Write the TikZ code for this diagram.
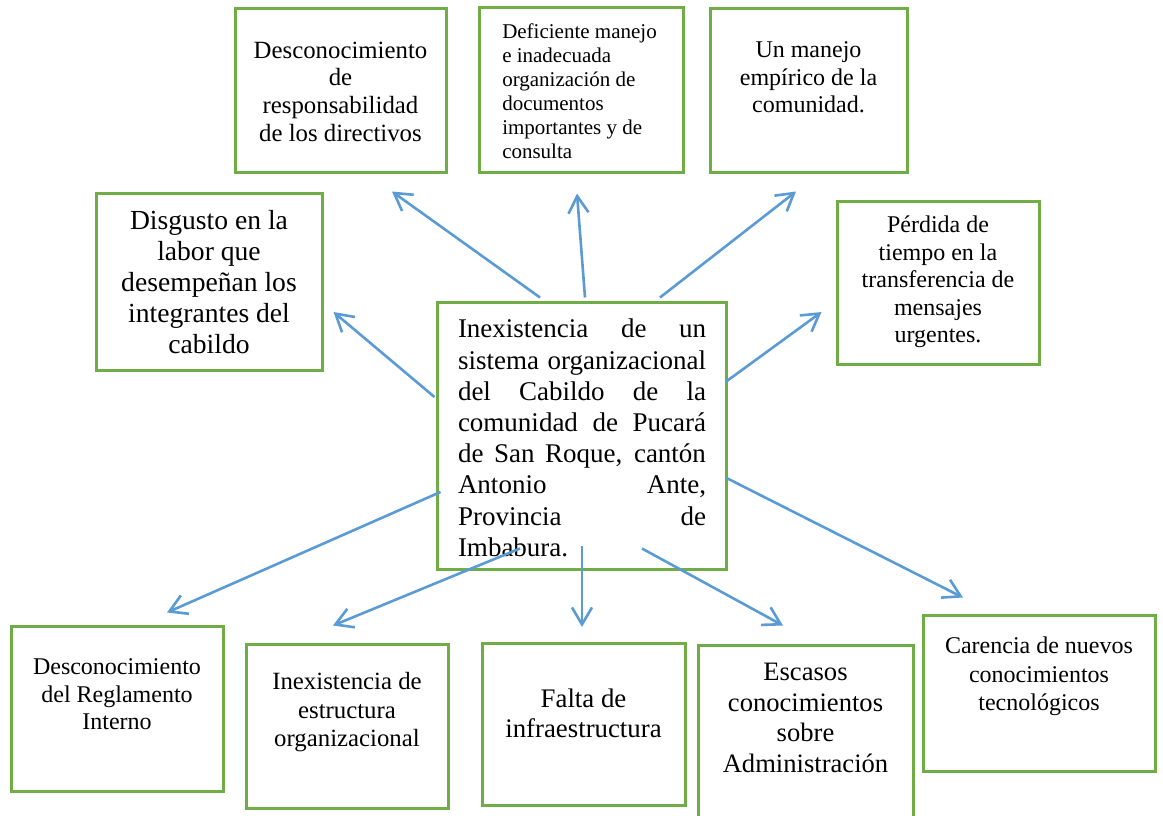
\documentclass[tikz,border=0pt]{standalone}
\usepackage{fontspec}
\setmainfont{Liberation Serif}
\usetikzlibrary{arrows.meta}
\usetikzlibrary{calc}
\definecolor{verde}{HTML}{70AD47}
\definecolor{azul}{HTML}{5B9BD5}
\tikzset{
  caja/.style={draw=verde, line width=1.5pt, inner sep=0pt},
  texto/.style={align=center, inner sep=0pt},
  flecha/.style={draw=azul, line width=1.3pt, -{Straight Barb[length=8.5pt,width=10pt]}}
}

\begin{document}
\begin{tikzpicture}[x=0.5pt,y=-0.5pt]
    \useasboundingbox (0,0) rectangle (1163,815);
    % cajas de arriba
    \node[caja, minimum width=105.5pt, minimum height=82pt] (resp) at (340.5,90) {};
    \node[texto, font=\fontsize{12.4}{13.85}\selectfont] (resp-t) at (340.5,91.5) {Desconocimiento\\de\\responsabilidad\\de los directivos};
    \node[caja, minimum width=102pt, minimum height=82.5pt] (docs) at (581,89.5) {};
    \node[texto, align=left, font=\fontsize{10.5}{12}\selectfont] (docs-t) at (579.5,91) {Deficiente manejo\\e inadecuada\\organización de\\documentos\\importantes y de\\consulta};
    \node[caja, minimum width=98.5pt, minimum height=82pt] (empir) at (808.5,90) {};
    \node[texto, font=\fontsize{12}{13.8}\selectfont] (empir-t) at (808.5,77.5) {Un manejo\\empírico de la\\comunidad.};
    \node[caja, minimum width=113pt, minimum height=88.5pt] (disg) at (209,281.5) {};
    \node[texto, font=\fontsize{13.8}{15.6}\selectfont] (disg-t) at (209,282) {Disgusto en la\\labor que\\desempeñan los\\integrantes del\\cabildo};
    \node[caja, minimum width=101pt, minimum height=81.5pt] (perd) at (938,282.5) {};
    \node[texto, font=\fontsize{12}{13.8}\selectfont] (perd-t) at (938,282) {Pérdida de\\tiempo en la\\transferencia de\\mensajes\\urgentes.};
    % problema central
    \node[caja, minimum width=144.5pt, minimum height=133.5pt] (cen) at (581.5,435.5) {};
    \node[texto, align=justify, text width=124pt, font=\fontsize{13.5}{15.6}\selectfont] (cen-t) at (582,438) {\tolerance=10000 Inexistencia de un\linebreak sistema organizacional\linebreak del Cabildo de la\linebreak comunidad de Pucará\linebreak de San Roque, cantón\linebreak Antonio Ante,\linebreak Provincia de\linebreak Imbabura.};
    % cajas de abajo
    \node[caja, minimum width=106pt, minimum height=82.5pt] (regl) at (117,708.5) {};
    \node[texto, font=\fontsize{12}{13.8}\selectfont] (regl-t) at (117,694.5) {Desconocimiento\\del Reglamento\\Interno};
    \node[caja, minimum width=101pt, minimum height=82pt] (estr) at (347,726) {};
    \node[texto, font=\fontsize{12.4}{14.25}\selectfont] (estr-t) at (347,712.5) {Inexistencia de\\estructura\\organizacional};
    \node[caja, minimum width=101.5pt, minimum height=81pt] (infra) at (583.5,724.5) {};
    \node[texto, font=\fontsize{13.4}{15}\selectfont] (infra-t) at (583.5,713) {Falta de\\infraestructura};
    \node[caja, minimum width=107.5pt, minimum height=100pt] (escas) at (805.5,745) {};
    \node[texto, font=\fontsize{13.3}{15.4}\selectfont] (escas-t) at (805.5,718) {Escasos\\conocimientos\\sobre\\Administración};
    \node[caja, minimum width=116pt, minimum height=78pt] (caren) at (1039,693) {};
    \node[texto, font=\fontsize{12}{14.25}\selectfont] (caren-t) at (1039,676.5) {Carencia de nuevos\\conocimientos\\tecnológicos};
    % flechas
    \draw[flecha] ($(cen.north)+(-41.5,-3)$) -- ($(resp.south)+(51.5,18)$);
    \draw[flecha] ($(cen.north)+(3.5,-3)$) -- ($(docs.south)+(-4,20)$);
    \draw[flecha] ($(cen.north)+(78.5,-3)$) -- ($(empir.south)+(-12.5,18)$);
    \draw[flecha] ($(cen.west)+(-1,-38.5)$) -- ($(disg.east)+(10,30.5)$);
    \draw[flecha] ($(cen.east)+(-2,-53.5)$) -- ($(perd.west)+(-14,29.5)$);
    \draw[flecha] ($(cen.west)+(5,56.5)$) -- ($(regl.north)+(50,-12)$);
    \draw[flecha] ($(cen.south)+(-61.5,-22)$) -- ($(estr.north)+(-14,-17)$);
    \draw[flecha] ($(cen.south)+(0.5,-25)$) -- ($(infra.north)+(-1.5,-15)$);
    \draw[flecha] ($(cen.south)+(60.5,-22)$) -- ($(escas.north)+(-22.5,-18)$);
    \draw[flecha] ($(cen.east)+(-1,42.5)$) -- ($(caren.north)+(-76,-16)$);
\end{tikzpicture}
\end{document}
